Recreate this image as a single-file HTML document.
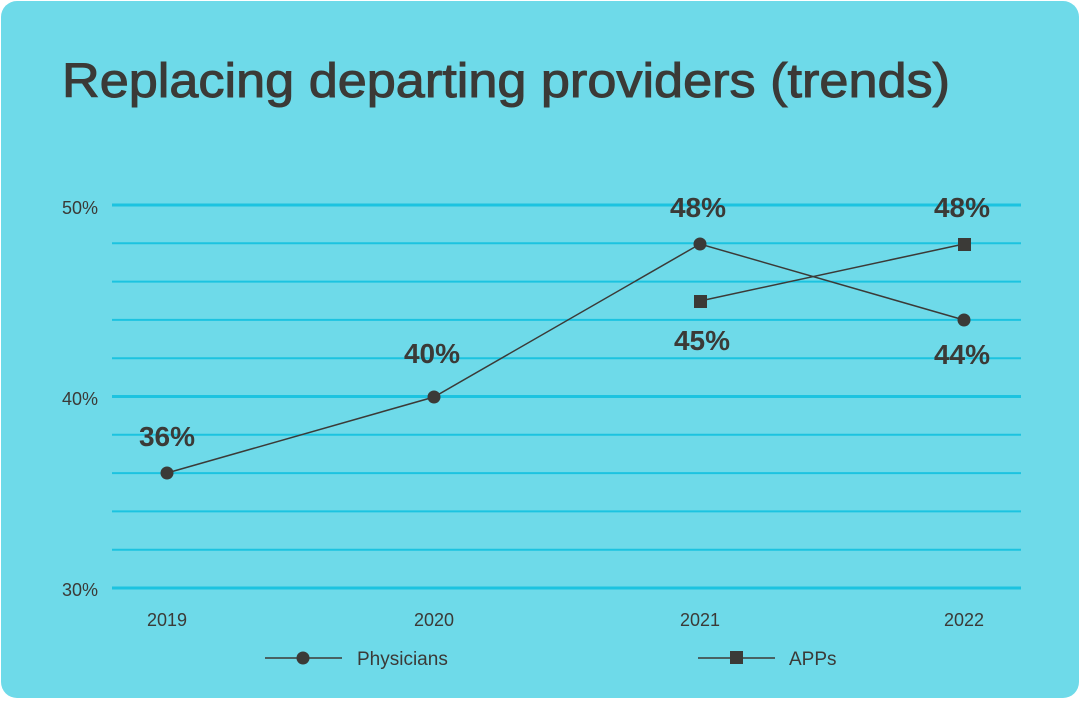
<!DOCTYPE html>
<html><head><style>
html,body{margin:0;padding:0;background:#fff;}
svg{display:block;font-family:"Liberation Sans",sans-serif;}
</style></head><body>
<svg width="1080" height="701" viewBox="0 0 1080 701">
<rect x="1" y="1" width="1078" height="697" rx="16" fill="#6EDAE9"/>
<text x="62" y="97" font-size="48" fill="#3b3a37" stroke="#3b3a37" stroke-width="1" textLength="888" lengthAdjust="spacingAndGlyphs">Replacing departing providers (trends)</text>
<g stroke="#1CC3E0">
<line x1="112" x2="1021" y1="205" y2="205" stroke-width="3"/>
<line x1="112" x2="1021" y1="243.3" y2="243.3" stroke-width="2"/>
<line x1="112" x2="1021" y1="281.6" y2="281.6" stroke-width="2"/>
<line x1="112" x2="1021" y1="319.9" y2="319.9" stroke-width="2"/>
<line x1="112" x2="1021" y1="358.2" y2="358.2" stroke-width="2"/>
<line x1="112" x2="1021" y1="396.5" y2="396.5" stroke-width="3"/>
<line x1="112" x2="1021" y1="434.8" y2="434.8" stroke-width="2"/>
<line x1="112" x2="1021" y1="473.1" y2="473.1" stroke-width="2"/>
<line x1="112" x2="1021" y1="511.4" y2="511.4" stroke-width="2"/>
<line x1="112" x2="1021" y1="549.7" y2="549.7" stroke-width="2"/>
<line x1="112" x2="1021" y1="588" y2="588" stroke-width="3"/>
</g>
<g font-size="18" fill="#3b3a37" text-anchor="end">
<text x="98" y="214">50%</text>
<text x="98" y="405">40%</text>
<text x="98" y="596">30%</text>
</g>
<g font-size="18" fill="#3b3a37" text-anchor="middle">
<text x="167" y="626">2019</text>
<text x="434" y="626">2020</text>
<text x="700" y="626">2021</text>
<text x="964" y="626">2022</text>
</g>
<polyline points="167,473 434,397 700,244 964,320" fill="none" stroke="#3b3a37" stroke-width="1.5"/>
<polyline points="700,301 964,244" fill="none" stroke="#3b3a37" stroke-width="1.5"/>
<g fill="#3b3a37">
<circle cx="167" cy="473" r="6.5"/><circle cx="434" cy="397" r="6.5"/>
<circle cx="700" cy="244" r="6.5"/><circle cx="964" cy="320" r="6.5"/>
<rect x="694" y="295" width="13" height="13"/><rect x="958" y="238" width="13" height="13"/>
</g>
<g font-size="28" font-weight="bold" fill="#3b3a37" text-anchor="middle">
<text x="167" y="446">36%</text>
<text x="432" y="363">40%</text>
<text x="698" y="217">48%</text>
<text x="962" y="217">48%</text>
<text x="702" y="350">45%</text>
<text x="962" y="364">44%</text>
</g>
<g stroke="#3b3a37" stroke-width="1.5">
<line x1="265" x2="342" y1="658" y2="658"/>
<line x1="698" x2="775" y1="658" y2="658"/>
</g>
<circle cx="303" cy="658" r="6.5" fill="#3b3a37"/>
<rect x="730" y="651" width="13" height="13" fill="#3b3a37"/>
<g font-size="19" fill="#3b3a37">
<text x="357" y="665">Physicians</text>
<text x="789" y="665">APPs</text>
</g>
</svg>
</body></html>
